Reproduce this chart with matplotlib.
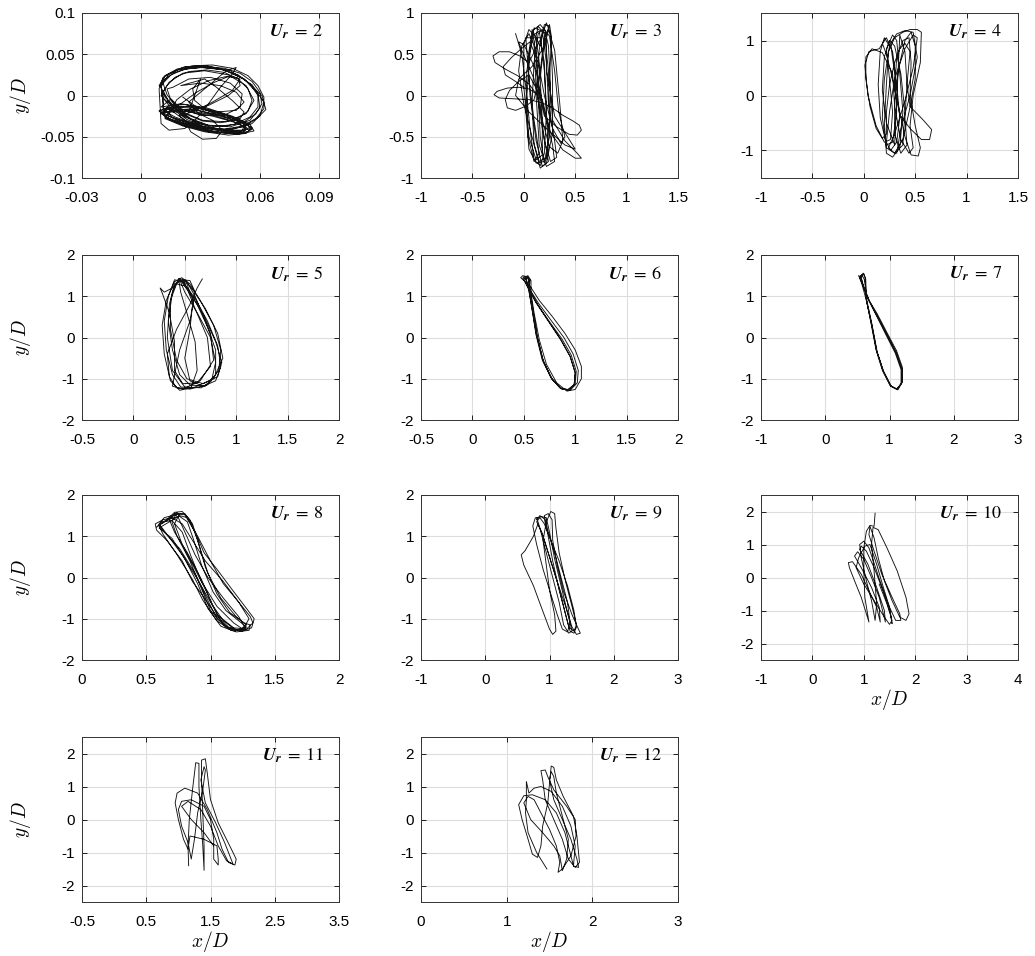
import matplotlib
matplotlib.use('Agg')
import matplotlib.pyplot as plt

plt.rcParams['font.family'] = ['Liberation Sans', 'DejaVu Sans']
plt.rcParams['mathtext.fontset'] = 'cm'
plt.rcParams['axes.unicode_minus'] = False

# trajectory points (x/D, y/D), one list per reduced velocity
path_ur2 = [
    (0.010, 0.012), (0.014, 0.026), (0.022, 0.035), (0.033, 0.036), (0.045, 0.030), (0.056, 0.013),
    (0.062, -0.008), (0.060, -0.025), (0.052, -0.038), (0.040, -0.042), (0.028, -0.033), (0.018, -0.018),
    (0.011, -0.003), (0.010, 0.012),
    (0.012, 0.024), (0.020, 0.033), (0.030, 0.035), (0.042, 0.031), (0.052, 0.020), (0.059, 0.002),
    (0.060, -0.015), (0.055, -0.030), (0.045, -0.038), (0.033, -0.036), (0.022, -0.026), (0.015, -0.012),
    (0.011, 0.004),
    (0.014, 0.016), (0.021, 0.027), (0.032, 0.030), (0.044, 0.025), (0.053, 0.012), (0.057, -0.006),
    (0.053, -0.022), (0.043, -0.032), (0.031, -0.030), (0.021, -0.020), (0.015, -0.006), (0.013, 0.008),
    (0.016, 0.010), (0.024, 0.020), (0.035, 0.022), (0.045, 0.015), (0.051, 0.002), (0.050, -0.014),
    (0.042, -0.024), (0.030, -0.024), (0.020, -0.016), (0.015, -0.004),
    (0.010, -0.014), (0.020, -0.010), (0.033, -0.015), (0.046, -0.025), (0.055, -0.035), (0.057, -0.043),
    (0.049, -0.047), (0.036, -0.043), (0.023, -0.035), (0.013, -0.027), (0.009, -0.019),
    (0.013, -0.015), (0.024, -0.013), (0.037, -0.020), (0.049, -0.029), (0.055, -0.038), (0.051, -0.045),
    (0.038, -0.045), (0.025, -0.038), (0.015, -0.030), (0.011, -0.022),
    (0.015, -0.018), (0.027, -0.017), (0.040, -0.024), (0.051, -0.033), (0.054, -0.041), (0.046, -0.044),
    (0.032, -0.040), (0.020, -0.032), (0.013, -0.024),
    (0.017, -0.014), (0.030, -0.016), (0.043, -0.024), (0.053, -0.034), (0.052, -0.042), (0.041, -0.042),
    (0.027, -0.036), (0.016, -0.027), (0.012, -0.018),
    (0.020, -0.010), (0.028, 0.004), (0.037, 0.016), (0.045, 0.024), (0.050, 0.020), (0.046, 0.006),
    (0.036, -0.008), (0.026, -0.020), (0.019, -0.024),
    (0.022, -0.030), (0.025, -0.044), (0.031, -0.053), (0.038, -0.052), (0.041, -0.042), (0.036, -0.030),
    (0.029, -0.022),
    (0.024, -0.008), (0.033, 0.010), (0.043, 0.030), (0.048, 0.034), (0.046, 0.026), (0.040, 0.010),
    (0.034, -0.010), (0.028, -0.028), (0.022, -0.040), (0.014, -0.042), (0.010, -0.034),
    (0.009, 0.008), (0.011, 0.022), (0.018, 0.031), (0.030, 0.034), (0.042, 0.031), (0.052, 0.020),
    (0.061, 0.000), (0.063, -0.017), (0.056, -0.034), (0.046, -0.041), (0.034, -0.040), (0.022, -0.030),
    (0.014, -0.016),
    (0.011, -0.020), (0.022, -0.019), (0.036, -0.025), (0.048, -0.033), (0.053, -0.040), (0.048, -0.046),
    (0.034, -0.044), (0.021, -0.036), (0.012, -0.027),
    (0.010, 0.010), (0.012, 0.020), (0.017, 0.028), (0.024, 0.033), (0.033, 0.035), (0.042, 0.033),
    (0.050, 0.027), (0.056, 0.017), (0.060, 0.004), (0.061, -0.010), (0.058, -0.022), (0.052, -0.032),
    (0.043, -0.037), (0.034, -0.036), (0.025, -0.028), (0.018, -0.016), (0.012, -0.002), (0.010, 0.010),
    (0.009, 0.012), (0.012, 0.024), (0.018, 0.032), (0.026, 0.036), (0.036, 0.037), (0.046, 0.033),
    (0.054, 0.024), (0.059, 0.012), (0.062, -0.002), (0.062, -0.016), (0.058, -0.028), (0.051, -0.037),
    (0.042, -0.041), (0.032, -0.038), (0.023, -0.029), (0.015, -0.015), (0.010, 0.000),
    (0.013, 0.012), (0.017, 0.022), (0.024, 0.029), (0.033, 0.031), (0.042, 0.028), (0.049, 0.020),
    (0.054, 0.008), (0.056, -0.006), (0.054, -0.019), (0.048, -0.029), (0.040, -0.033), (0.031, -0.031),
    (0.023, -0.023), (0.017, -0.011), (0.013, 0.001),
    (0.011, 0.015), (0.015, 0.025), (0.022, 0.032), (0.031, 0.034), (0.040, 0.032), (0.049, 0.025),
    (0.055, 0.014), (0.059, 0.000), (0.059, -0.014), (0.055, -0.026), (0.047, -0.035), (0.037, -0.038),
    (0.028, -0.033), (0.020, -0.022), (0.014, -0.008), (0.011, 0.006),
    (0.011, -0.016), (0.018, -0.013), (0.027, -0.014), (0.037, -0.019), (0.046, -0.026), (0.053, -0.034),
    (0.056, -0.041), (0.052, -0.046), (0.043, -0.046), (0.033, -0.042), (0.023, -0.036), (0.015, -0.029),
    (0.010, -0.022),
    (0.014, -0.012), (0.022, -0.011), (0.031, -0.015), (0.041, -0.022), (0.050, -0.030), (0.055, -0.038),
    (0.054, -0.044), (0.046, -0.045), (0.036, -0.041), (0.026, -0.034), (0.017, -0.026), (0.012, -0.019),
    (0.016, -0.020), (0.025, -0.019), (0.035, -0.023), (0.045, -0.030), (0.052, -0.037), (0.051, -0.043),
    (0.042, -0.043), (0.031, -0.038), (0.021, -0.031), (0.014, -0.025),
    (0.009, -0.018), (0.016, -0.016), (0.028, -0.018), (0.040, -0.025), (0.050, -0.032), (0.056, -0.039),
    (0.053, -0.046), (0.044, -0.048), (0.032, -0.044), (0.021, -0.037), (0.012, -0.028),
    (0.018, -0.005), (0.025, 0.008), (0.034, 0.018), (0.043, 0.023), (0.049, 0.021), (0.050, 0.012),
    (0.044, 0.000), (0.034, -0.012), (0.024, -0.020),
    (0.030, 0.020), (0.026, 0.008), (0.027, -0.006), (0.033, -0.018), (0.042, -0.026), (0.050, -0.028),
    (0.052, -0.020), (0.046, -0.006), (0.038, 0.010), (0.032, 0.020),
    (0.020, 0.012), (0.030, 0.015), (0.040, 0.012), (0.048, 0.004), (0.052, -0.008), (0.048, -0.018),
    (0.038, -0.020), (0.028, -0.014), (0.021, -0.002),
]

path_ur3 = [
    (-0.08, 0.75), (-0.02, 0.50), (0.02, 0.10), (0.06, -0.40), (0.10, -0.78), (0.16, -0.85), (0.20, -0.70),
    (0.22, -0.20), (0.20, 0.40), (0.15, 0.78), (0.08, 0.72), (0.03, 0.30), (0.02, -0.20), (0.05, -0.65),
    (0.12, -0.82), (0.20, -0.80), (0.25, -0.50), (0.26, 0.10), (0.24, 0.60), (0.20, 0.82), (0.14, 0.75),
    (0.10, 0.40), (0.08, -0.10), (0.10, -0.60), (0.16, -0.88), (0.22, -0.82), (0.28, -0.45), (0.28, 0.20),
    (0.26, 0.75), (0.22, 0.88), (0.17, 0.70),
    (0.05, 0.40), (-0.04, 0.48), (-0.14, 0.53), (-0.24, 0.53), (-0.30, 0.48), (-0.28, 0.40), (-0.18, 0.32),
    (-0.06, 0.24), (0.05, 0.14), (0.12, 0.02),
    (0.05, 0.08), (-0.05, 0.10), (-0.16, 0.09), (-0.26, 0.05), (-0.29, 0.01), (-0.24, -0.03),
    (-0.10, -0.04), (0.05, -0.05), (0.18, -0.09), (0.28, -0.15),
    (0.38, -0.24), (0.48, -0.31), (0.54, -0.36), (0.56, -0.42), (0.52, -0.48), (0.44, -0.47), (0.32, -0.38),
    (0.20, -0.25), (0.14, 0.10),
    (0.18, 0.50), (0.23, 0.78), (0.25, 0.86), (0.27, 0.70), (0.25, 0.20), (0.28, -0.30), (0.40, -0.55),
    (0.52, -0.70), (0.56, -0.76), (0.50, -0.76), (0.38, -0.66), (0.26, -0.45), (0.18, -0.05),
    (0.05, 0.25), (-0.05, 0.17), (-0.14, 0.06), (-0.18, -0.05), (-0.16, -0.15), (-0.08, -0.18),
    (0.02, -0.13), (0.10, -0.05),
    (0.16, 0.30), (0.12, 0.70), (0.05, 0.80), (0.00, 0.62), (0.00, 0.10), (0.05, -0.50), (0.12, -0.78),
    (0.18, -0.72), (0.18, -0.30), (0.16, 0.20), (0.20, 0.70), (0.24, 0.80), (0.30, 0.55), (0.35, -0.10),
    (0.38, -0.55), (0.33, -0.70), (0.25, -0.62), (0.18, -0.30), (0.10, 0.20), (-0.02, 0.55), (-0.05, 0.65),
    (0.00, 0.62), (0.12, 0.30), (0.20, -0.20), (0.28, -0.60), (0.30, -0.80), (0.22, -0.86), (0.15, -0.60),
    (0.12, 0.00), (0.15, 0.55), (0.18, 0.78), (0.22, 0.75), (0.22, 0.30), (0.30, -0.25), (0.45, -0.55),
    (0.50, -0.65), (0.40, -0.60), (0.22, -0.40), (0.05, -0.20), (-0.08, 0.00), (-0.05, 0.20), (0.08, 0.35),
    (0.20, 0.60), (0.25, 0.84), (0.20, 0.86), (0.16, 0.60),
    (0.08, 0.80), (0.12, 0.50), (0.14, 0.00), (0.16, -0.50), (0.20, -0.82), (0.24, -0.70), (0.22, -0.20),
    (0.20, 0.30), (0.16, 0.70), (0.02, 0.70), (0.05, 0.20), (0.10, -0.30), (0.15, -0.70), (0.10, -0.80),
    (0.04, -0.50), (0.03, 0.00), (0.06, 0.50), (0.10, 0.82), (0.18, 0.78), (0.22, 0.40), (0.24, -0.10),
    (0.30, -0.55), (0.32, -0.75), (0.26, -0.80), (0.20, -0.55), (0.15, 0.00), (0.12, 0.55), (0.05, 0.75),
    (-0.02, 0.60), (-0.05, 0.30), (0.00, -0.10), (0.08, -0.50), (0.15, -0.80), (0.22, -0.75), (0.25, -0.30),
    (0.24, 0.30), (0.20, 0.75), (0.14, 0.84), (0.10, 0.60), (0.12, 0.10), (0.18, -0.40), (0.24, -0.80),
    (0.18, -0.86), (0.12, -0.55), (0.06, 0.00), (0.04, 0.45), (0.08, 0.78), (0.16, 0.86), (0.25, 0.72),
    (0.30, 0.30), (0.34, -0.20), (0.40, -0.50), (0.36, -0.58), (0.28, -0.40), (0.20, 0.00), (0.14, 0.40),
    (0.06, 0.65), (-0.04, 0.55), (-0.12, 0.46), (-0.20, 0.35), (-0.18, 0.25), (-0.08, 0.17), (0.00, 0.10),
]

path_ur4 = [
    (0.20, 1.00), (0.15, 0.85), (0.05, 0.80), (0.01, 0.55), (0.04, 0.00), (0.12, -0.55), (0.20, -0.85),
    (0.26, -0.80), (0.28, -0.30), (0.25, 0.30), (0.22, 0.85), (0.28, 1.10), (0.32, 1.00), (0.35, 0.40),
    (0.38, -0.30), (0.35, -0.95), (0.28, -1.12), (0.22, -1.05), (0.20, -0.50), (0.22, 0.20), (0.24, 0.80),
    (0.30, 1.05), (0.38, 1.15), (0.45, 1.20), (0.52, 1.20), (0.56, 1.15), (0.55, 0.60), (0.48, 0.00),
    (0.45, -0.55), (0.48, -0.95), (0.44, -1.05), (0.36, -0.80), (0.30, -0.20), (0.28, 0.40),
    (0.18, 0.78), (0.08, 0.85), (0.02, 0.70), (0.02, 0.30), (0.06, -0.20), (0.12, -0.60), (0.18, -0.78),
    (0.22, -0.70), (0.22, -0.30), (0.25, 0.20), (0.30, 0.60), (0.35, 0.85), (0.40, 0.95), (0.45, 0.80),
    (0.42, 0.20),
    (0.45, -0.20), (0.58, -0.45), (0.66, -0.62), (0.64, -0.80), (0.56, -0.80), (0.45, -0.60), (0.35, -0.35),
    (0.30, 0.10), (0.32, 0.70), (0.38, 1.00), (0.44, 1.05), (0.46, 0.60), (0.45, 0.00), (0.50, -0.55),
    (0.55, -0.95), (0.53, -1.10), (0.46, -1.08), (0.40, -0.75), (0.35, -0.30), (0.28, 0.30), (0.22, 0.75),
    (0.18, 0.95), (0.22, 1.05), (0.28, 0.80), (0.32, 0.20), (0.35, -0.40), (0.32, -0.85), (0.26, -1.00),
    (0.22, -0.85), (0.25, -0.30), (0.30, 0.30), (0.40, 0.85), (0.48, 1.10), (0.52, 1.05), (0.48, 0.50),
    (0.40, -0.10), (0.30, -0.70), (0.24, -0.95), (0.30, -1.05), (0.38, -0.90), (0.40, -0.30), (0.36, 0.40),
    (0.30, 0.90), (0.25, 1.00), (0.20, 0.70), (0.18, 0.10), (0.22, -0.50), (0.30, -0.90),
    (0.35, 1.10), (0.40, 0.80), (0.42, 0.20), (0.40, -0.40), (0.42, -0.90), (0.36, -1.05), (0.30, -0.70),
    (0.30, -0.10), (0.34, 0.50), (0.40, 1.00), (0.46, 1.15), (0.50, 0.90), (0.50, 0.30), (0.44, -0.30),
    (0.38, -0.80), (0.30, -1.05), (0.22, -0.95), (0.18, -0.40), (0.20, 0.30), (0.25, 0.90), (0.20, 1.05),
    (0.16, 0.80), (0.14, 0.20), (0.16, -0.40), (0.22, -0.90), (0.28, -0.85), (0.32, -0.30), (0.30, 0.40),
    (0.26, 0.95), (0.32, 1.12), (0.40, 1.18), (0.48, 1.15), (0.52, 0.70), (0.45, 0.00), (0.36, -0.60),
    (0.32, -1.05),
]

path_ur5 = [
    (0.67, 1.42), (0.62, 1.20), (0.55, 0.80), (0.42, 0.20), (0.33, -0.40), (0.35, -0.95), (0.42, -1.22),
    (0.55, -1.25), (0.72, -1.15), (0.83, -0.80), (0.85, -0.30), (0.78, 0.30), (0.65, 0.90), (0.55, 1.30),
    (0.47, 1.45), (0.40, 1.35), (0.32, 0.90), (0.28, 0.30), (0.30, -0.40), (0.36, -1.05), (0.45, -1.28),
    (0.60, -1.20), (0.78, -1.00), (0.87, -0.50), (0.82, 0.10), (0.70, 0.70), (0.58, 1.15), (0.50, 1.40),
    (0.44, 1.42), (0.38, 1.10), (0.34, 0.40), (0.38, -0.30), (0.45, -0.90), (0.55, -1.15), (0.70, -1.18),
    (0.80, -0.90), (0.80, -0.30), (0.70, 0.40), (0.60, 1.00), (0.52, 1.35), (0.45, 1.38), (0.38, 1.20),
    (0.30, 1.10), (0.26, 1.20), (0.28, 1.08), (0.35, 0.60), (0.40, -0.10), (0.40, -0.80), (0.48, -1.12),
    (0.62, -1.10), (0.75, -0.70), (0.72, 0.00), (0.60, 0.70), (0.52, 1.20), (0.48, 1.40), (0.55, 1.38),
    (0.60, 1.10), (0.55, 0.40), (0.45, -0.30), (0.40, -0.90), (0.38, -1.18), (0.48, -1.25), (0.65, -1.05),
    (0.78, -0.55), (0.75, 0.10), (0.62, 0.80), (0.50, 1.25), (0.42, 1.30), (0.36, 0.90), (0.36, 0.20),
    (0.42, -0.55), (0.52, -1.00), (0.68, -1.12), (0.82, -0.95), (0.86, -0.60), (0.80, -0.10), (0.68, 0.55),
    (0.56, 1.05), (0.46, 1.38), (0.40, 1.30), (0.35, 0.80), (0.33, 0.00), (0.38, -0.80), (0.50, -1.20),
    (0.66, -1.22), (0.76, -1.05), (0.80, -0.60), (0.75, 0.00), (0.62, 0.60), (0.50, 1.10),
    (0.45, 1.40), (0.52, 1.30), (0.58, 0.90), (0.55, 0.20), (0.50, -0.50), (0.55, -1.05), (0.68, -1.18),
    (0.80, -1.05), (0.85, -0.70), (0.82, -0.20), (0.72, 0.40), (0.60, 0.95), (0.48, 1.35), (0.40, 1.40),
    (0.34, 1.00), (0.30, 0.40), (0.32, -0.30), (0.38, -0.90), (0.46, -1.20), (0.56, -1.22), (0.62, -0.80),
    (0.60, -0.10), (0.52, 0.60), (0.46, 1.10), (0.44, 1.42),
]

path_ur6 = [
    (0.52, 1.45), (0.55, 1.15), (0.58, 0.70), (0.62, 0.10), (0.68, -0.50), (0.76, -0.95), (0.85, -1.22),
    (0.93, -1.27), (0.99, -1.15), (1.00, -0.85), (0.95, -0.45), (0.86, -0.05), (0.74, 0.40), (0.62, 0.85),
    (0.54, 1.20), (0.50, 1.42), (0.53, 1.48), (0.56, 1.40),
    (0.55, 1.12), (0.58, 0.68), (0.62, 0.05), (0.68, -0.55), (0.77, -1.00), (0.86, -1.24), (0.94, -1.28),
    (1.00, -1.12), (1.01, -0.82), (0.96, -0.42), (0.87, -0.03), (0.75, 0.38), (0.63, 0.82), (0.55, 1.18),
    (0.49, 1.44), (0.51, 1.49), (0.55, 1.42),
    (0.56, 1.10), (0.59, 0.65), (0.63, 0.02), (0.69, -0.58), (0.78, -1.02), (0.87, -1.25), (0.95, -1.28),
    (1.02, -1.10), (1.03, -0.80), (0.98, -0.40), (0.89, 0.00), (0.77, 0.40), (0.64, 0.84), (0.56, 1.16),
    (0.51, 1.46), (0.54, 1.50), (0.57, 1.38),
    (0.57, 1.08), (0.60, 0.60), (0.65, -0.05), (0.72, -0.65), (0.82, -1.10), (0.92, -1.30), (1.00, -1.26),
    (1.06, -1.00), (1.06, -0.70), (1.00, -0.30), (0.90, 0.10), (0.78, 0.50), (0.65, 0.90), (0.56, 1.25),
    (0.47, 1.45), (0.49, 1.50), (0.54, 1.45), (0.56, 1.15), (0.59, 0.66), (0.63, 0.03), (0.69, -0.57),
    (0.77, -1.00), (0.86, -1.23), (0.93, -1.26), (0.99, -1.14), (1.00, -0.86), (0.95, -0.46), (0.86, -0.06),
    (0.74, 0.39), (0.62, 0.84), (0.54, 1.22), (0.52, 1.45),
]

path_ur7 = [
    (0.52, 1.50), (0.57, 1.30), (0.64, 0.90), (0.72, 0.33), (0.80, -0.33), (0.90, -0.81), (1.02, -1.18),
    (1.12, -1.26), (1.19, -1.10), (1.19, -0.75), (1.10, -0.35), (0.95, 0.10), (0.80, 0.55), (0.68, 0.90),
    (0.59, 1.25), (0.55, 1.48), (0.59, 1.56), (0.62, 1.45),
    (0.64, 0.92), (0.71, 0.36), (0.79, -0.30), (0.89, -0.80), (1.01, -1.17), (1.11, -1.25), (1.18, -1.12),
    (1.18, -0.78), (1.09, -0.38), (0.94, 0.08), (0.80, 0.52), (0.67, 0.92), (0.58, 1.28), (0.53, 1.48),
    (0.57, 1.52), (0.61, 1.40),
    (0.65, 0.88), (0.73, 0.30), (0.81, -0.36), (0.91, -0.83), (1.03, -1.19), (1.13, -1.27), (1.20, -1.08),
    (1.20, -0.72), (1.11, -0.32), (0.96, 0.12), (0.81, 0.57), (0.69, 0.88), (0.60, 1.22), (0.56, 1.46),
    (0.60, 1.55), (0.63, 1.42),
    (0.64, 0.90), (0.72, 0.34), (0.80, -0.32), (0.90, -0.80), (1.02, -1.17), (1.12, -1.25), (1.19, -1.10),
    (1.19, -0.76), (1.10, -0.36), (0.95, 0.09), (0.80, 0.54), (0.68, 0.90), (0.59, 1.26), (0.54, 1.47),
]

path_ur8 = [
    (0.62, 1.30), (0.68, 1.42), (0.76, 1.48), (0.82, 1.35), (0.87, 0.90), (0.93, 0.30), (1.02, -0.35),
    (1.12, -0.80), (1.22, -1.05), (1.28, -1.20), (1.25, -1.30), (1.15, -1.25), (1.05, -1.00), (0.97, -0.50),
    (0.88, 0.10), (0.76, 0.70), (0.64, 1.10), (0.60, 1.28),
    (0.66, 1.40), (0.72, 1.58), (0.78, 1.60), (0.84, 1.40), (0.90, 0.90), (0.96, 0.25), (1.05, -0.40),
    (1.15, -0.85), (1.26, -1.10), (1.31, -1.15), (1.30, -1.28), (1.20, -1.32), (1.10, -1.15), (1.02, -0.70),
    (0.93, -0.05), (0.82, 0.60), (0.72, 1.10), (0.68, 1.40),
    (0.73, 1.55), (0.80, 1.55), (0.86, 1.30), (0.92, 0.70), (0.98, 0.10), (1.08, -0.50), (1.20, -0.95),
    (1.28, -1.15), (1.22, -1.28), (1.12, -1.20), (1.00, -0.80), (0.92, -0.20), (0.84, 0.40), (0.74, 1.00),
    (0.70, 1.35), (0.74, 1.58),
    (0.58, 1.22), (0.62, 1.35), (0.70, 1.38), (0.78, 1.10), (0.85, 0.50), (0.93, -0.10), (1.05, -0.70),
    (1.18, -1.10), (1.25, -1.25), (1.18, -1.30), (1.08, -1.18), (0.98, -0.75), (0.90, -0.15), (0.80, 0.45),
    (0.70, 0.95), (0.60, 1.20),
    (0.76, 1.50), (0.82, 1.45), (0.90, 1.00), (1.00, 0.40), (1.10, -0.15), (1.22, -0.60), (1.31, -0.95),
    (1.33, -1.10), (1.28, -1.25), (1.18, -1.22), (1.05, -0.90), (0.97, -0.35), (0.88, 0.20), (0.78, 0.80),
    (0.72, 1.30), (0.76, 1.55),
    (0.70, 1.50), (0.64, 1.45), (0.60, 1.30), (0.66, 1.05), (0.78, 0.55), (0.90, -0.05), (1.00, -0.60),
    (1.10, -1.05), (1.20, -1.28), (1.27, -1.22), (1.22, -0.95), (1.10, -0.50), (0.98, 0.00), (0.88, 0.55),
    (0.80, 1.10), (0.75, 1.45),
    (0.72, 1.55), (0.80, 1.52), (0.88, 1.10), (0.95, 0.60), (1.05, 0.20), (1.17, -0.30), (1.28, -0.75),
    (1.34, -1.00), (1.32, -1.22), (1.24, -1.30), (1.14, -1.20), (1.04, -0.90), (0.93, -0.40), (0.86, -0.10),
    (0.78, 0.40), (0.66, 0.90), (0.58, 1.15), (0.57, 1.30), (0.63, 1.40),
    (0.70, 1.45), (0.78, 1.30), (0.86, 0.90), (0.96, 0.40), (1.10, -0.10), (1.22, -0.60), (1.30, -1.00),
    (1.25, -1.27), (1.16, -1.28), (1.05, -1.05), (0.94, -0.55), (0.86, -0.05), (0.74, 0.55), (0.63, 1.05),
    (0.60, 1.25),
]

path_ur9 = [
    (0.80, 1.40), (0.85, 1.50), (0.92, 1.42), (0.98, 1.00), (1.05, 0.40), (1.15, -0.30), (1.25, -0.90),
    (1.32, -1.30), (1.38, -1.35), (1.42, -1.20), (1.38, -0.80), (1.28, -0.20), (1.15, 0.40), (1.02, 0.90),
    (0.92, 1.30), (0.85, 1.45),
    (0.78, 1.45), (0.74, 1.25), (0.80, 0.80), (0.90, 0.20), (1.02, -0.40), (1.12, -0.90), (1.20, -1.25),
    (1.28, -1.32), (1.32, -1.10), (1.28, -0.60), (1.18, 0.00), (1.08, 0.60), (0.98, 1.10), (0.92, 1.50),
    (0.98, 1.55), (1.04, 1.40), (1.05, 0.90), (1.12, 0.30), (1.22, -0.35), (1.35, -0.90), (1.45, -1.25),
    (1.48, -1.35), (1.42, -1.38), (1.35, -1.20), (1.25, -0.70), (1.12, -0.10), (1.00, 0.50), (0.90, 1.00),
    (0.82, 1.30),
    (0.75, 1.00), (0.62, 0.65), (0.56, 0.55), (0.60, 0.30), (0.75, -0.20), (0.88, -0.75), (1.00, -1.25),
    (1.05, -1.38), (1.10, -1.30), (1.08, -0.90), (1.00, -0.30), (0.95, 0.30), (0.90, 0.90), (0.95, 1.35),
    (1.02, 1.60), (1.08, 1.55), (1.10, 1.20), (1.15, 0.60), (1.25, -0.10), (1.35, -0.70), (1.42, -1.15),
    (1.38, -1.30), (1.30, -1.20), (1.22, -0.70), (1.12, -0.10), (1.00, 0.50), (0.88, 1.10), (0.80, 1.35),
    (0.86, 1.48), (0.95, 1.45), (1.00, 1.10), (1.08, 0.45), (1.18, -0.20), (1.28, -0.85), (1.35, -1.30),
    (1.30, -1.35), (1.22, -1.15), (1.15, -0.60), (1.05, 0.00), (0.95, 0.60), (0.85, 1.20), (0.80, 1.45),
]

path_ur10 = [
    (1.22, 1.95), (1.20, 1.55), (1.12, 1.58), (1.05, 1.40), (1.00, 0.90), (1.00, 0.20), (1.02, -0.60),
    (1.10, -1.35), (1.05, -1.10), (0.95, -0.60), (0.82, -0.10), (0.72, 0.30), (0.70, 0.45), (0.78, 0.48),
    (0.95, 0.10), (1.10, -0.40), (1.25, -0.90), (1.32, -1.35), (1.30, -0.90), (1.15, -0.30), (0.95, 0.30),
    (0.82, 0.65), (0.88, 0.78), (1.00, 0.55), (1.15, 0.00), (1.30, -0.60), (1.42, -1.35), (1.40, -1.00),
    (1.25, -0.30), (1.08, 0.40), (0.92, 0.85), (0.95, 0.95), (1.05, 0.80), (1.20, 0.30), (1.35, -0.30),
    (1.50, -0.90), (1.55, -1.40), (1.52, -1.10), (1.40, -0.50), (1.25, 0.20), (1.10, 0.90), (1.00, 1.10),
    (0.92, 1.00), (0.95, 0.60), (1.05, -0.10), (1.15, -0.70), (1.22, -1.30),
    (1.25, -0.80), (1.20, 0.20), (1.15, 1.00), (1.18, 1.52), (1.28, 1.45), (1.45, 0.90), (1.65, 0.20),
    (1.82, -0.60), (1.88, -1.10), (1.82, -1.30), (1.70, -1.20), (1.55, -0.70), (1.40, -0.10), (1.28, 0.60),
    (1.20, 1.20), (1.12, 1.55),
    (1.10, 1.30), (1.20, 0.80), (1.35, 0.10), (1.55, -0.60), (1.70, -1.10), (1.72, -1.30), (1.62, -1.30),
    (1.50, -0.90), (1.38, -0.30), (1.25, 0.40), (1.12, 1.00), (1.02, 0.95), (0.90, 0.60), (0.85, 0.30),
    (1.00, -0.20), (1.20, -0.70), (1.40, -1.20), (1.50, -1.42), (1.55, -1.30), (1.45, -0.80), (1.30, -0.20),
]

path_ur11 = [
    (1.16, -1.40), (1.15, -0.80), (1.17, 0.00), (1.22, 0.90), (1.27, 1.72), (1.32, 1.70), (1.32, 1.00),
    (1.35, 0.00), (1.38, -0.80), (1.40, -1.54), (1.40, -0.80), (1.38, 0.20), (1.36, 1.20), (1.36, 1.80),
    (1.42, 1.84), (1.45, 1.40), (1.50, 0.60), (1.62, -0.10), (1.80, -0.80), (1.90, -1.20), (1.88, -1.38),
    (1.78, -1.30), (1.68, -0.90), (1.60, -0.40), (1.45, 0.30), (1.30, 0.80), (1.10, 0.95), (0.98, 0.80),
    (0.95, 0.50), (1.00, 0.00), (1.08, -0.60), (1.15, -0.90), (1.18, -0.50), (1.40, -0.60), (1.60, -0.80),
    (1.62, -1.20), (1.62, -1.38), (1.55, -1.20), (1.55, -0.60), (1.50, 0.00), (1.40, 0.40), (1.20, 0.60),
    (1.05, 0.55), (1.00, 0.30), (1.05, -0.20), (1.15, -0.70), (1.20, -1.20), (1.25, -0.60), (1.30, 0.20),
    (1.38, 0.90), (1.42, 1.50), (1.40, 1.60), (1.35, 1.20), (1.42, 0.50), (1.58, -0.10), (1.72, -0.70),
    (1.82, -1.20), (1.85, -1.35), (1.75, -1.25), (1.62, -0.80), (1.50, -0.20), (1.35, 0.30), (1.15, 0.55),
    (1.05, 0.40), (1.20, 0.00), (1.40, -0.40), (1.55, -0.80),
]

path_ur12 = [
    (1.47, -1.50), (1.35, -1.00), (1.25, -0.40), (1.22, 0.20), (1.23, 0.60), (1.23, 1.15), (1.26, 0.80),
    (1.32, 0.95), (1.40, 1.00), (1.52, 0.85), (1.65, 0.40), (1.75, -0.20), (1.80, -0.80), (1.78, -1.40),
    (1.74, -1.00), (1.68, -0.40), (1.58, 0.20), (1.45, 0.60), (1.30, 0.75), (1.20, 0.72), (1.14, 0.45),
    (1.18, 0.00), (1.25, -0.60), (1.30, -1.05), (1.36, -1.15), (1.40, -0.80), (1.42, -0.20), (1.48, 0.50),
    (1.50, 1.10), (1.52, 1.62), (1.55, 1.58), (1.58, 1.20), (1.66, 0.70), (1.78, 0.10), (1.82, -0.50),
    (1.85, -1.30), (1.80, -1.45), (1.72, -1.20), (1.65, -0.60), (1.55, 0.00), (1.45, 0.60), (1.42, 1.20),
    (1.40, 1.48), (1.45, 1.50), (1.48, 1.30), (1.55, 0.90), (1.70, 0.40), (1.80, 0.00), (1.81, -0.50),
    (1.75, -1.10), (1.65, -1.50), (1.60, -1.60), (1.62, -1.30), (1.58, -0.80), (1.50, -0.30), (1.40, 0.20),
    (1.32, 0.60), (1.25, 0.70), (1.20, 0.50), (1.28, 0.00), (1.42, -0.40), (1.55, -0.80), (1.62, -1.10),
    (1.65, -1.55), (1.70, -1.20), (1.72, -0.60), (1.65, 0.10), (1.58, 0.80), (1.55, 1.30), (1.52, 1.45),
    (1.50, 1.20), (1.55, 0.60), (1.65, 0.00), (1.75, -0.60), (1.82, -1.20), (1.84, -1.45), (1.78, -1.42),
]

ur_values = [2, 3, 4, 5, 6, 7, 8, 9, 10, 11, 12]
paths = [path_ur2, path_ur3, path_ur4, path_ur5, path_ur6, path_ur7,
         path_ur8, path_ur9, path_ur10, path_ur11, path_ur12]
xticks = [[-0.03, 0, 0.03, 0.06, 0.09], [-1, -0.5, 0, 0.5, 1, 1.5], [-1, -0.5, 0, 0.5, 1, 1.5],
          [-0.5, 0, 0.5, 1, 1.5, 2], [-0.5, 0, 0.5, 1, 1.5, 2], [-1, 0, 1, 2, 3],
          [0, 0.5, 1, 1.5, 2], [-1, 0, 1, 2, 3], [-1, 0, 1, 2, 3, 4],
          [-0.5, 0.5, 1.5, 2.5, 3.5], [0, 1, 2, 3]]
xlims = [(-0.03, 0.1), (-1, 1.5), (-1, 1.5), (-0.5, 2), (-0.5, 2), (-1, 3),
         (0, 2), (-1, 3), (-1, 4), (-0.5, 3.5), (0, 3)]
yticks = [[-0.1, -0.05, 0, 0.05, 0.1], [-1, -0.5, 0, 0.5, 1], [-1, 0, 1],
          [-2, -1, 0, 1, 2], [-2, -1, 0, 1, 2], [-2, -1, 0, 1, 2],
          [-2, -1, 0, 1, 2], [-2, -1, 0, 1, 2], [-2, -1, 0, 1, 2],
          [-2, -1, 0, 1, 2], [-2, -1, 0, 1, 2]]
ylims = [(-0.1, 0.1), (-1, 1), (-1.5, 1.5), (-2, 2), (-2, 2), (-2, 2),
         (-2, 2), (-2, 2), (-2.5, 2.5), (-2.5, 2.5), (-2.5, 2.5)]

W, H = 1035, 956
fig = plt.figure(figsize=(W / 100, H / 100), dpi=100)

col_left = [82, 421, 761]
row_top = [13, 255, 495, 737]
aw, ah = 257, 165

for i, pts in enumerate(paths):
    r, c = divmod(i, 3)
    ax = fig.add_axes([col_left[c] / W, 1 - (row_top[r] + ah) / H, aw / W, ah / H])
    xs = [p[0] for p in pts]
    ys = [p[1] for p in pts]
    ax.plot(xs, ys, color='#111111', lw=0.65)
    ax.set_xlim(*xlims[i])
    ax.set_ylim(*ylims[i])
    ax.set_xticks(xticks[i])
    ax.set_xticklabels([f'{v:g}' for v in xticks[i]])
    ax.set_yticks(yticks[i])
    ax.set_yticklabels([f'{v:g}' for v in yticks[i]])
    ax.grid(True, color='#dddddd', lw=0.8)
    ax.set_axisbelow(True)
    ax.tick_params(direction='in', top=True, right=True, length=3.5, width=0.6, labelsize=11)
    ax.tick_params(axis='x', pad=9)
    ax.tick_params(axis='y', pad=5)
    for s in ax.spines.values():
        s.set_linewidth(0.7)
        s.set_color('#333333')
    ax.text(0.94, 0.885, r'$\mathbfit{U}_{\mathbfit{r}}\;=\;%d$' % ur_values[i], transform=ax.transAxes,
            ha='right', va='center', fontsize=13, math_fontfamily='stix')
    if c == 0:
        ax.set_ylabel(r'$y/D$', fontsize=14)
        ax.yaxis.set_label_coords(-0.19, 0.5)
    if i >= 8:
        ax.set_xlabel(r'$x/D$', fontsize=14)
        ax.xaxis.set_label_coords(0.5, -0.165)

fig.savefig('out.png', dpi=100)
